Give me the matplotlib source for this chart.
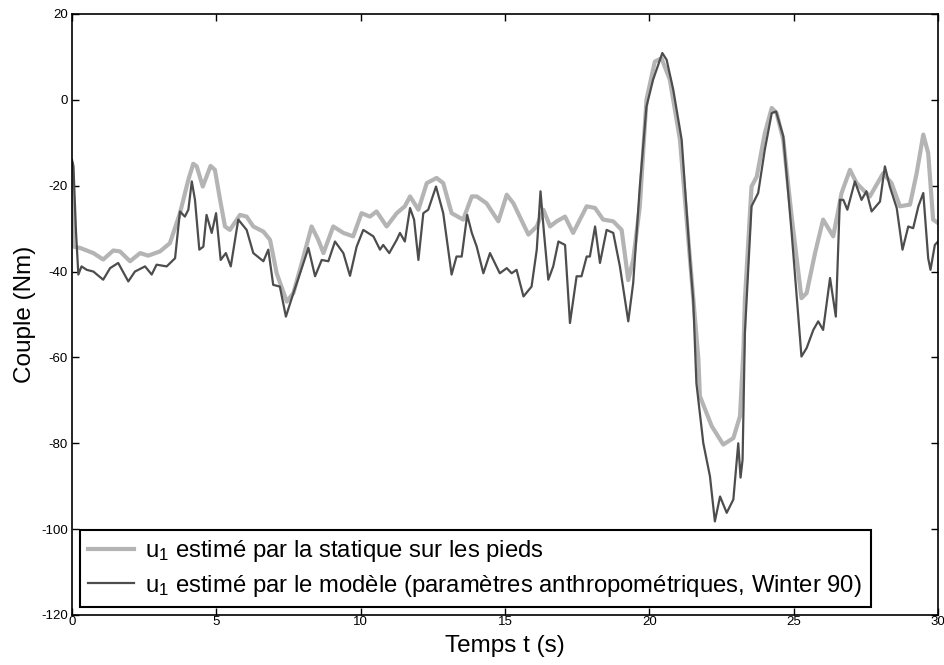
import matplotlib
matplotlib.use('Agg')
import matplotlib.pyplot as plt

plt.rcParams['font.family'] = ['Liberation Sans', 'DejaVu Sans']
plt.rcParams['mathtext.fontset'] = 'custom'
plt.rcParams['mathtext.rm'] = 'Liberation Sans'
plt.rcParams['mathtext.it'] = 'Liberation Sans'
plt.rcParams['axes.unicode_minus'] = False

# u1 from foot statics (light grey)
t_stat = [0.0, 0.05, 0.28, 0.74, 1.08, 1.43, 1.66, 2.01, 2.36, 2.64, 3.05, 3.39, 3.74, 4.03,
          4.20, 4.32, 4.53, 4.80, 4.95, 5.13, 5.30, 5.47, 5.82, 6.05, 6.28, 6.63, 6.86, 7.09,
          7.44, 7.67, 7.96, 8.30, 8.53, 8.71, 9.05, 9.40, 9.74, 10.03, 10.32, 10.55, 10.90,
          11.25, 11.53, 11.71, 12.00, 12.29, 12.63, 12.86, 13.15, 13.55, 13.85, 14.02, 14.36,
          14.77, 15.06, 15.29, 15.81, 16.10, 16.33, 16.56, 16.79, 17.08, 17.36, 17.83, 18.12,
          18.40, 18.75, 19.04, 19.27, 19.44, 19.67, 19.90, 20.19, 20.42, 20.71, 21.06, 21.41,
          21.70, 21.75, 22.16, 22.56, 22.91, 23.14, 23.26, 23.31, 23.54, 23.72, 24.00, 24.24,
          24.41, 24.64, 24.93, 25.27, 25.45, 25.74, 26.02, 26.37, 26.66, 26.95, 27.18, 27.41,
          27.64, 28.10, 28.39, 28.68, 29.03, 29.26, 29.49, 29.66, 29.83, 30.0]
u_stat = [-15.0, -34.2, -34.5, -35.7, -37.2, -35.1, -35.3, -37.6, -35.7, -36.3, -35.3, -33.4,
          -26.4, -18.6, -14.9, -15.5, -20.2, -15.4, -16.3, -23.3, -29.5, -30.3, -26.8, -27.2,
          -29.5, -30.7, -32.6, -40.4, -47.0, -45.0, -38.0, -29.5, -32.6, -35.7, -29.5, -31.0,
          -31.8, -26.4, -27.2, -26.0, -29.5, -26.4, -24.8, -22.5, -25.6, -19.4, -18.2, -19.4,
          -26.4, -27.9, -22.5, -22.5, -24.1, -28.3, -22.1, -24.1, -31.4, -29.5, -25.6, -29.5,
          -28.3, -27.2, -31.0, -24.8, -25.2, -27.9, -28.3, -30.3, -42.0, -37.3, -24.8, 0.0,
          8.9, 9.7, 4.7, -9.3, -37.3, -60.5, -69.0, -76.0, -80.3, -78.8, -73.7, -58.2, -46.6,
          -20.2, -17.9, -7.8, -1.9, -3.1, -9.3, -27.2, -46.2, -45.0, -35.7, -27.9, -31.8,
          -21.7, -16.3, -19.4, -21.0, -22.5, -17.1, -19.4, -24.8, -24.4, -17.1, -8.1, -12.4,
          -27.9, -28.7]

# u1 from the anthropometric model (dark grey)
t_mod = [0.0, 0.05, 0.14, 0.22, 0.33, 0.51, 0.74, 1.08, 1.32, 1.60, 1.95, 2.18, 2.53, 2.76,
         2.93, 3.28, 3.57, 3.74, 3.91, 4.03, 4.15, 4.26, 4.41, 4.55, 4.66, 4.84, 4.99, 5.15,
         5.33, 5.50, 5.76, 6.05, 6.28, 6.63, 6.80, 6.97, 7.20, 7.41, 7.67, 7.90, 8.19, 8.42,
         8.65, 8.88, 9.11, 9.40, 9.63, 9.86, 10.09, 10.44, 10.67, 10.78, 10.99, 11.25, 11.36,
         11.53, 11.71, 11.85, 12.00, 12.17, 12.34, 12.61, 12.86, 13.15, 13.32, 13.50, 13.69,
         13.85, 14.02, 14.25, 14.48, 14.82, 15.06, 15.23, 15.40, 15.64, 15.92, 16.10, 16.23,
         16.35, 16.50, 16.67, 16.85, 17.08, 17.25, 17.48, 17.65, 17.83, 17.94, 18.12, 18.29,
         18.52, 18.75, 18.98, 19.27, 19.44, 19.67, 19.90, 20.13, 20.45, 20.60, 20.83, 21.12,
         21.41, 21.52, 21.63, 21.87, 22.10, 22.27, 22.45, 22.68, 22.91, 23.08, 23.16, 23.23,
         23.31, 23.54, 23.77, 24.00, 24.24, 24.39, 24.64, 24.93, 25.27, 25.45, 25.68, 25.85,
         26.02, 26.26, 26.46, 26.60, 26.72, 26.86, 27.12, 27.35, 27.52, 27.70, 27.99, 28.16,
         28.33, 28.57, 28.77, 28.97, 29.14, 29.32, 29.49, 29.66, 29.74, 29.89, 30.0]
u_mod = [-14.0, -15.5, -31.0, -40.7, -38.8, -39.6, -40.0, -41.9, -39.2, -38.0, -42.3, -40.0,
         -38.8, -40.7, -38.4, -38.8, -36.9, -26.0, -27.2, -25.6, -19.0, -23.3, -34.9, -34.2,
         -26.8, -31.0, -26.4, -37.3, -35.7, -38.8, -27.9, -30.3, -35.7, -37.6, -34.9, -43.1,
         -43.5, -50.5, -45.0, -40.4, -34.5, -41.1, -37.3, -37.6, -33.0, -35.7, -41.0, -34.2,
         -30.3, -31.8, -34.9, -33.8, -35.7, -32.6, -31.0, -33.0, -25.2, -27.9, -37.3, -26.4,
         -25.6, -20.2, -26.4, -40.7, -36.5, -36.5, -26.8, -31.0, -34.2, -40.4, -35.7, -40.4,
         -39.2, -40.4, -39.6, -45.8, -43.5, -34.9, -21.3, -31.0, -41.9, -38.8, -33.0, -33.8,
         -52.0, -41.1, -41.1, -36.5, -36.5, -29.5, -38.0, -30.3, -31.0, -38.8, -51.6, -42.7,
         -20.2, -1.6, 4.7, 10.9, 9.3, 2.3, -9.3, -37.3, -46.6, -66.0, -80.0, -87.7, -98.2,
         -92.4, -96.2, -93.1, -80.0, -88.0, -83.8, -54.3, -24.8, -21.7, -11.6, -3.1, -2.7,
         -8.5, -31.0, -59.8, -57.8, -53.6, -51.6, -53.6, -41.5, -50.5, -23.3, -23.3, -25.6,
         -19.0, -23.3, -21.3, -26.0, -23.7, -15.5, -20.2, -25.2, -34.9, -29.5, -29.9, -24.8,
         -21.7, -36.9, -39.6, -33.8, -33.0]

x_ticks = [0, 5, 10, 15, 20, 25, 30]
y_ticks = [-120, -100, -80, -60, -40, -20, 0, 20]

fig = plt.figure(figsize=(9.45, 6.65), dpi=100)
ax = fig.add_axes([0.0762, 0.0752, 0.9164, 0.9038])

ax.plot(t_stat, u_stat, color='#b4b4b4', lw=3.0,
        label=r'u$_\mathrm{1}$ estimé par la statique sur les pieds')
ax.plot(t_mod, u_mod, color='#4d4d4d', lw=1.6,
        label=r'u$_\mathrm{1}$ estimé par le modèle (paramètres anthropométriques, Winter 90)')

ax.set_xlim(0, 30)
ax.set_ylim(-120, 20)
ax.set_xticks(x_ticks)
ax.set_yticks(y_ticks)
ax.tick_params(direction='in', top=True, right=True, length=5, width=1, labelsize=9.5)
ax.tick_params(axis='x', pad=1)
ax.tick_params(axis='y', pad=3)
for s in ax.spines.values():
    s.set_linewidth(1.2)

ax.set_xlabel('Temps t (s)', fontsize=17.5, labelpad=5)
ax.set_ylabel('Couple (Nm)', fontsize=17.5, labelpad=4)

leg = ax.legend(loc='lower left', bbox_to_anchor=(0.009, 0.013), borderaxespad=0,
                fontsize=17.2, fancybox=False, framealpha=1, edgecolor='black',
                handlelength=1.9, handletextpad=0.5, labelspacing=0.35, borderpad=0.35)
leg.get_frame().set_linewidth(1.5)

fig.savefig('out.png', dpi=100)
